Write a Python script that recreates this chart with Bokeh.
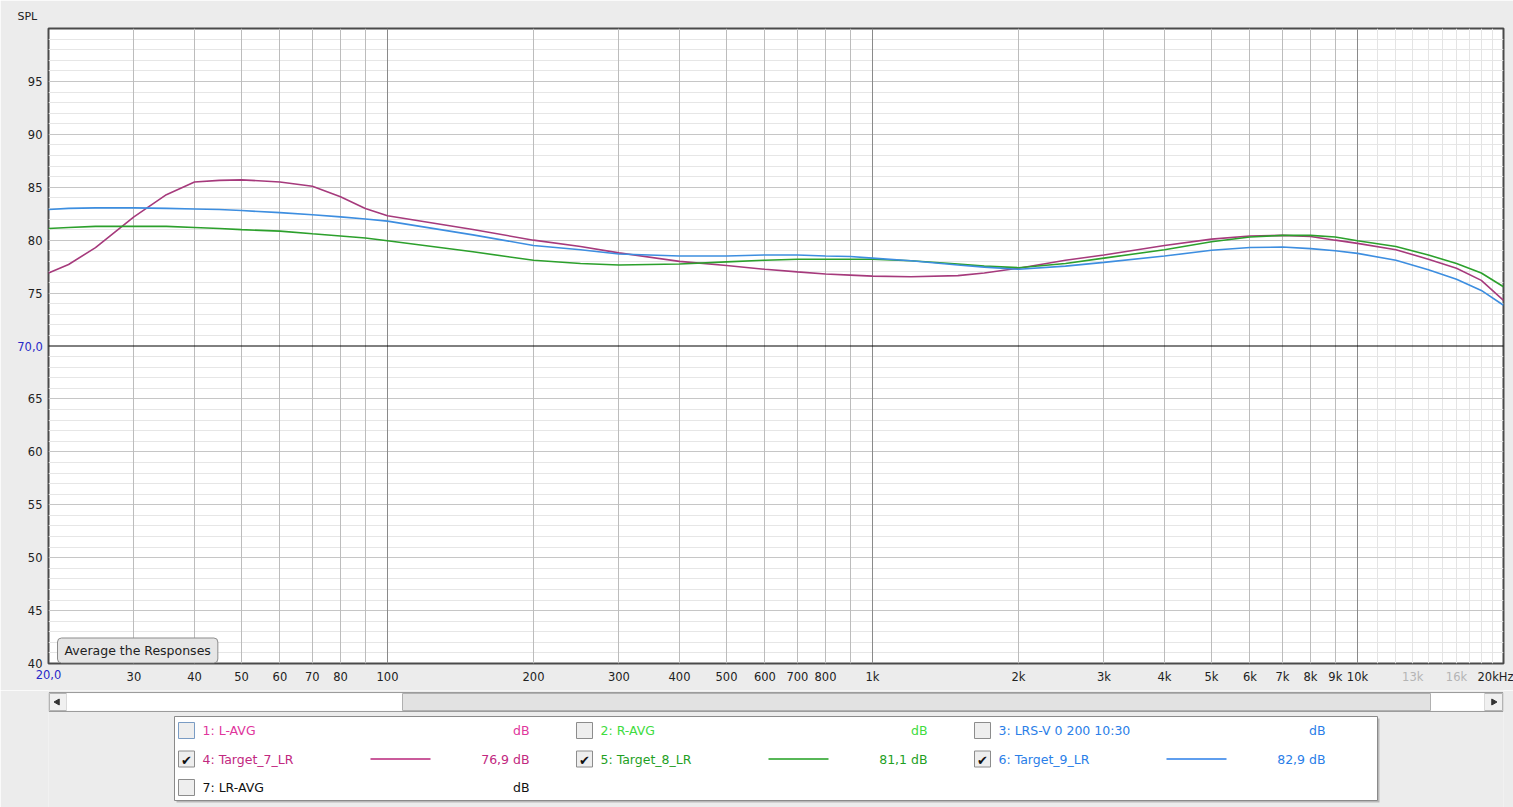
import math
from bokeh.plotting import figure
from bokeh.models import FixedTicker, Grid, Span, Label, Range1d, Title, LogAxis
from bokeh.layouts import column
from bokeh.core.properties import value
from bokeh.embed import file_html
from bokeh.resources import INLINE

# ---------------- data ----------------
freq = [20, 22, 25, 30, 35, 40, 45, 50, 60, 70, 80, 90, 100, 150, 200, 250, 300, 400, 500,
        600, 700, 800, 900, 1000, 1200, 1500, 1700, 2000, 2500, 3000, 4000, 5000, 6000, 7000,
        8000, 9000, 10000, 12000, 14000, 16000, 18000, 20000]
target_7 = [76.9, 77.7, 79.3, 82.2, 84.3, 85.5, 85.65, 85.7, 85.5, 85.1, 84.1, 83.0, 82.3,
            81.0, 80.0, 79.4, 78.8, 78.0, 77.6, 77.25, 77.0, 76.8, 76.7, 76.6, 76.55, 76.65,
            76.9, 77.35, 78.1, 78.6, 79.5, 80.1, 80.4, 80.45, 80.35, 80.0, 79.7, 79.1, 78.2,
            77.35, 76.2, 74.3]
target_8 = [81.1, 81.2, 81.3, 81.3, 81.3, 81.2, 81.1, 81.0, 80.85, 80.6, 80.4, 80.2, 79.95,
            78.9, 78.1, 77.8, 77.65, 77.75, 77.95, 78.1, 78.2, 78.2, 78.2, 78.2, 78.05, 77.75,
            77.55, 77.4, 77.8, 78.3, 79.1, 79.85, 80.3, 80.45, 80.45, 80.3, 79.95, 79.4, 78.6,
            77.8, 76.9, 75.6]
target_9 = [82.9, 83.0, 83.05, 83.05, 83.0, 82.95, 82.9, 82.8, 82.6, 82.4, 82.2, 82.0, 81.8,
            80.5, 79.5, 79.1, 78.7, 78.5, 78.5, 78.6, 78.6, 78.5, 78.45, 78.3, 78.05, 77.65,
            77.45, 77.25, 77.55, 77.9, 78.5, 79.05, 79.3, 79.35, 79.2, 79.0, 78.75, 78.1, 77.2,
            76.3, 75.25, 73.85]

y_ticks = [40, 45, 50, 55, 60, 65, 70, 75, 80, 85, 90, 95]
x_tick_freqs = [20, 30, 40, 50, 60, 70, 80, 100, 200, 300, 400, 500, 600, 700, 800,
                1000, 2000, 3000, 4000, 5000, 6000, 7000, 8000, 9000, 10000, 13000, 16000, 20000]
x_tick_labels = ["20,0", "30", "40", "50", "60", "70", "80", "100", "200", "300", "400", "500",
                 "600", "700", "800", "1k", "2k", "3k", "4k", "5k", "6k", "7k", "8k", "9k",
                 "10k", "13k", "16k", "20kHz"]
grey_ticks = [13000, 16000]
start_tick = [20]
ref_level = 70
ref_label = "70,0"
y_title = "SPL"
button_text = "Average the Responses"

legend_names = ["1: L-AVG", "2: R-AVG", "3: LRS-V 0 200 10:30", "4: Target_7_LR",
                "5: Target_8_LR", "6: Target_9_LR", "7: LR-AVG"]
legend_values = ["dB", "dB", "dB", "76,9 dB", "81,1 dB", "82,9 dB", "dB"]
legend_checked = [False, False, False, True, True, True, False]

# ---------------- styles ----------------
FONT = "DejaVu Sans"
FS = "11.5px"
BG = "#ececec"
BLUE_TXT = "#2828c8"
C7, C8, C9 = "#a63a7c", "#2ca02c", "#3d8ee0"
legend_text_colors = ["#e0359c", "#40dc40", "#2a7ee8", "#c2287f", "#1f9f1f", "#2a7ee8", "#111111"]
legend_line_colors = [None, None, None, "#b8247a", "#1f9f1f", "#2a7ee8", None]

W, H1 = 1513, 690
H2 = 807 - H1
FL, FT, FR, FB = 48, 28, 1503, 663          # frame edges in page pixels
XMIN, XMAX, YMIN, YMAX = 20, 20000, 40, 100
LABEL_H = 17                                 # height of one tick-label row
X_STANDOFF = 6


def px_x(ix):
    return XMIN * 10 ** ((ix - FL) / (FR - FL) * math.log10(XMAX / XMIN))


def px_y(iy):
    return YMAX - (iy - FT) / (FB - FT) * (YMAX - YMIN)


# ---------------- main chart ----------------
p1 = figure(width=W, height=H1, x_axis_type="log", x_range=Range1d(XMIN, XMAX),
            y_range=Range1d(YMIN, YMAX), output_backend="svg", toolbar_location=None,
            min_border_left=FL, min_border_right=W - FR,
            min_border_top=FT, min_border_bottom=H1 - FB)
p1.title = Title(text=y_title, align="left", offset=17 - FL, standoff=12,
                 text_font=FONT, text_font_size="11px", text_font_style="normal",
                 text_color="#222222")
p1.background_fill_color = "white"
p1.border_fill_color = BG
p1.outline_line_color = "#4a4a4a"
p1.outline_line_width = 2
p1.xgrid.grid_line_color = None
p1.ygrid.grid_line_color = None

minor_h = [v for v in range(41, 100) if v % 5 != 0]
major_h = [v for v in range(45, 100, 5) if v != ref_level]
minor_v = ([f for f in range(30, 100, 10)] + [f for f in range(200, 1000, 100)]
           + [f for f in range(2000, 10000, 1000)])
decade_v = [100, 1000, 10000]
high_v = [f for f in range(11000, 20000, 1000)]

for ticks, dim, color in [(minor_h, 1, "#e6e6e6"), (high_v, 0, "#e4e4e4"),
                          (major_h, 1, "#c6c6c6"), (minor_v, 0, "#bcbcbc"),
                          (decade_v, 0, "#8a8a8a")]:
    p1.add_layout(Grid(dimension=dim, ticker=FixedTicker(ticks=ticks),
                       grid_line_color=color, grid_line_width=1))

p1.add_layout(Span(location=ref_level, dimension="width", line_color="black", line_width=1))

p1.line(freq, target_7, line_color=C7, line_width=1.6)
p1.line(freq, target_8, line_color=C8, line_width=1.6)
p1.line(freq, target_9, line_color=C9, line_width=1.6)


def style_axis(ax, color="#222222"):
    ax.axis_line_color = None
    ax.major_tick_line_color = None
    ax.minor_tick_line_color = None
    ax.major_tick_out = 0
    ax.major_tick_in = 0
    ax.minor_tick_out = 0
    ax.minor_tick_in = 0
    ax.major_label_text_font = FONT
    ax.major_label_text_font_size = FS
    ax.major_label_text_color = color


# y axis: ticks + reference level as horizontal axis label (centred on 70 dB)
yax = p1.yaxis[0]
yax.ticker = FixedTicker(ticks=y_ticks)
yax.major_label_overrides = {ref_level: ""}
style_axis(yax)
yax.major_label_standoff = 6
yax.axis_label = ref_label
yax.axis_label_orientation = "horizontal"
yax.axis_label_standoff = -18
yax.axis_label_text_font = FONT
yax.axis_label_text_font_size = FS
yax.axis_label_text_font_style = "normal"
yax.axis_label_text_color = BLUE_TXT

# x axis (main row)
label_of = {f: lab for f, lab in zip(x_tick_freqs, x_tick_labels)}
xax = p1.xaxis[0]
xax.ticker = FixedTicker(ticks=[f for f in x_tick_freqs if f not in grey_ticks + start_tick])
style_axis(xax)
xax.major_label_standoff = X_STANDOFF
xax.major_label_overrides = label_of

# grey high-frequency labels and blue start label on extra axes sharing the same row
for ticks, color in [(grey_ticks, "#b4b4b4"), (start_tick, BLUE_TXT)]:
    ax = LogAxis(ticker=FixedTicker(ticks=ticks),
                 major_label_overrides={f: label_of[f] for f in ticks})
    style_axis(ax, color)
    ax.major_label_standoff = -LABEL_H
    p1.add_layout(ax, "below")

p1.add_layout(Label(x=px_x(57), y=px_y(650), text=button_text, text_align="left",
                    text_baseline="middle", text_font=FONT, text_font_size="12.5px",
                    text_color="#222222", background_fill_color="#e6e6e6",
                    border_line_color="#8c8c8c", border_line_width=1, padding=(7, 5),
                    border_radius=4))

# ---------------- scrollbar + legend panel ----------------
p2 = figure(width=W, height=H2, x_range=Range1d(FL, FR), y_range=Range1d(807, H1),
            output_backend="svg", toolbar_location=None,
            x_axis_location=None, y_axis_location=None, min_border=0,
            min_border_left=FL, min_border_right=W - FR)
p2.background_fill_color = BG
p2.border_fill_color = BG
p2.outline_line_color = None
p2.grid.visible = False

# scrollbar
p2.quad(left=[FL + 0.5], right=[FR - 0.5], top=[692], bottom=[711], fill_color="#f6f6f6",
        line_color="#9c9c9c")
p2.quad(left=[FL + 1, FR - 19], right=[FL + 18, FR - 1], top=[693, 693], bottom=[710, 710],
        fill_color="#f0f0f0", line_color="#b4b4b4")
p2.quad(left=[FL + 18, 1430], right=[402, FR - 19], top=[693, 693], bottom=[710, 710],
        fill_color="white", line_color=None)
p2.quad(left=[402], right=[1430], top=[693], bottom=[710], fill_color="#e2e2e2",
        line_color="#b0b0b0")
p2.scatter(x=[FL + 9, FR - 10], y=[701.5, 701.5], marker="triangle", size=6,
           angle=[math.pi / 2, -math.pi / 2], fill_color="#333333", line_color="#333333")

# legend panel
PL, PR, PT, PB = 174, 1377, 716, 800
p2.quad(left=[PL + 2], right=[PR + 2], top=[PT + 2], bottom=[PB + 2], fill_color="#b8b8b8",
        line_color=None)
p2.quad(left=[PL], right=[PR], top=[PT], bottom=[PB], fill_color="white", line_color="#8a8a8a")

col_x0, col_dx = 178, 398
row_y0, row_dy = 730, 28.5
cb_x, cb_y, name_x, name_y, val_x, val_y = [], [], [], [], [], []
ck_x, ck_y, seg_x0, seg_x1, seg_y, seg_c = [], [], [], [], [], []
for i, name in enumerate(legend_names):
    c, r = i % 3, i // 3
    x0 = col_x0 + c * col_dx
    y0 = row_y0 + r * row_dy
    cb_x.append(x0 + 8)
    cb_y.append(y0)
    name_x.append(x0 + 24)
    name_y.append(y0)
    val_x.append(x0 + 351)
    val_y.append(y0)
    if legend_checked[i]:
        ck_x.append(x0 + 8)
        ck_y.append(y0 + 1)
    if legend_line_colors[i]:
        seg_x0.append(x0 + 192)
        seg_x1.append(x0 + 252)
        seg_y.append(y0)
        seg_c.append(legend_line_colors[i])

p2.scatter(x=cb_x, y=cb_y, marker="square", size=16, fill_color="#eeeeee",
           line_color=["#7a9cc4"] + ["#8c8c8c"] * (len(cb_x) - 1), line_width=1)
p2.text(x=ck_x, y=ck_y, text=["✔"] * len(ck_x), text_align="center", text_baseline="middle",
        text_font=value("DejaVu Sans"), text_font_size="13px", text_color="#111111")
p2.text(x=name_x, y=name_y, text=legend_names, text_align="left", text_baseline="middle",
        text_font=value(FONT), text_font_size="12.5px", text_color=legend_text_colors)
p2.text(x=val_x, y=val_y, text=legend_values, text_align="right", text_baseline="middle",
        text_font=value(FONT), text_font_size="12.5px", text_color=legend_text_colors)
p2.segment(x0=seg_x0, y0=seg_y, x1=seg_x1, y1=seg_y, line_color=seg_c, line_width=1.5)

layout = column(p1, p2, spacing=0)
open("out.html", "w").write(file_html(layout, INLINE))
